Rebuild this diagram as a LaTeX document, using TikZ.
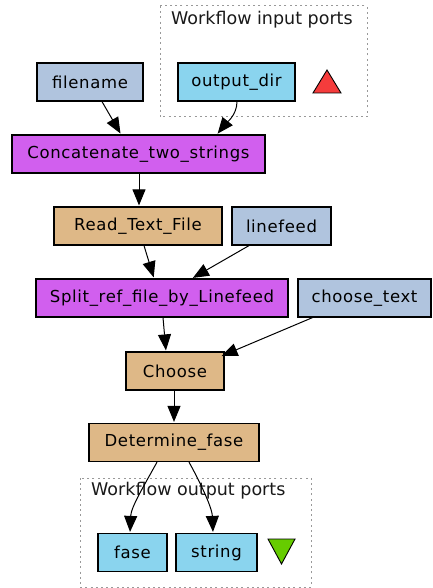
\documentclass[tikz,border=0pt]{standalone}
\usepackage{fontspec}
\setmainfont{DejaVu Sans}
\newfontfamily\boxfont[LetterSpace=4]{DejaVu Sans}
\usetikzlibrary{arrows.meta,calc}
\definecolor{inport}{HTML}{B0C4DE}
\definecolor{wfport}{HTML}{8AD4EE}
\definecolor{nested}{HTML}{D15FEE}
\definecolor{proc}{HTML}{DEB887}
\definecolor{redtri}{HTML}{F53C3C}
\definecolor{greentri}{HTML}{66CC00}
\tikzset{
  box/.style={draw=black, line width=1.2pt, minimum height=38pt, inner sep=0pt,
    font=\boxfont\fontsize{16.5}{19}\selectfont, text=black},
  cluster/.style={draw=gray!80, line width=1pt, dash pattern=on 2pt off 3.2pt},
  clabel/.style={anchor=west, inner sep=0pt, font=\fontsize{17.5}{20}\selectfont, text=black!90},
  link/.style={draw=black, line width=1pt, -{Triangle[length=16pt,width=13pt]}, shorten >=1pt},
  tri/.style={draw=black, line width=0.9pt}
}
\begin{document}
\begin{tikzpicture}[x=1pt,y=-1pt]
\useasboundingbox (0,0) rectangle (432,588);
% workflow port clusters
\draw[cluster] (160,6) rectangle (367,117);
\node[clabel] (inlabel) at (171,20) {Workflow input ports};
\draw[cluster] (80,478) rectangle (311,587);
\node[clabel] (outlabel) at (91,491) {Workflow output ports};
% port markers
\draw[tri, fill=redtri] (313,93) -- (341,93) -- (327,70) -- cycle;
\draw[tri, fill=greentri] (268,539) -- (295,539) -- (281.5,564) -- cycle;
% nodes
\node[box, fill=inport, minimum width=106pt] (filename) at (90,82) {filename};
\node[box, fill=wfport, minimum width=117pt] (outdir) at (236.5,82) {output\_dir};
\node[box, fill=nested, minimum width=253pt] (concat) at (138.5,154) {Concatenate\_two\_strings};
\node[box, fill=proc, minimum width=168pt] (read) at (138,226) {Read\_Text\_File};
\node[box, fill=inport, minimum width=99pt] (linefeed) at (281.5,226) {linefeed};
\node[box, fill=nested, minimum width=252pt] (split) at (162,298) {Split\_ref\_file\_by\_Linefeed};
\node[box, fill=inport, minimum width=133pt] (choosetext) at (364.5,298) {choose\_text};
\node[box, fill=proc, minimum width=98pt] (choose) at (175,371) {Choose};
\node[box, fill=proc, minimum width=170pt] (determine) at (174,442.5) {Determine\_fase};
\node[box, fill=wfport, minimum width=69pt] (fase) at (132.5,552.5) {fase};
\node[box, fill=wfport, minimum width=81pt] (string) at (216.5,552.5) {string};
% connectors
\draw[link] ([xshift=12pt]filename.south) -- ([xshift=-17.5pt]concat.north);
\draw[link] ([xshift=0.5pt]outdir.south) .. controls +(0,14) and +(8,-10) .. ([xshift=78.5pt]concat.north);
\draw[link] ([xshift=0.5pt]concat.south) -- ([xshift=1pt]read.north);
\draw[link] ([xshift=6pt]read.south) -- ([xshift=-8pt]split.north);
\draw[link] ([xshift=-32.5pt]linefeed.south) -- ([xshift=30pt]split.north);
\draw[link] ([xshift=1pt]split.south) -- ([xshift=-9pt]choose.north);
\draw[link] ([xshift=-52pt]choosetext.south) -- ([xshift=-4pt,yshift=-5pt]choose.north east);
\draw[link] ([xshift=-1pt]choose.south) -- ([xshift=0pt]determine.north);
\draw[link] ([xshift=-17pt]determine.south) .. controls +(-12,22) and +(1,-26) .. ([xshift=-2.5pt]fase.north);
\draw[link] ([xshift=15pt]determine.south) .. controls +(10,18) and +(-1,-26) .. ([xshift=-3.5pt]string.north);
\end{tikzpicture}
\end{document}
